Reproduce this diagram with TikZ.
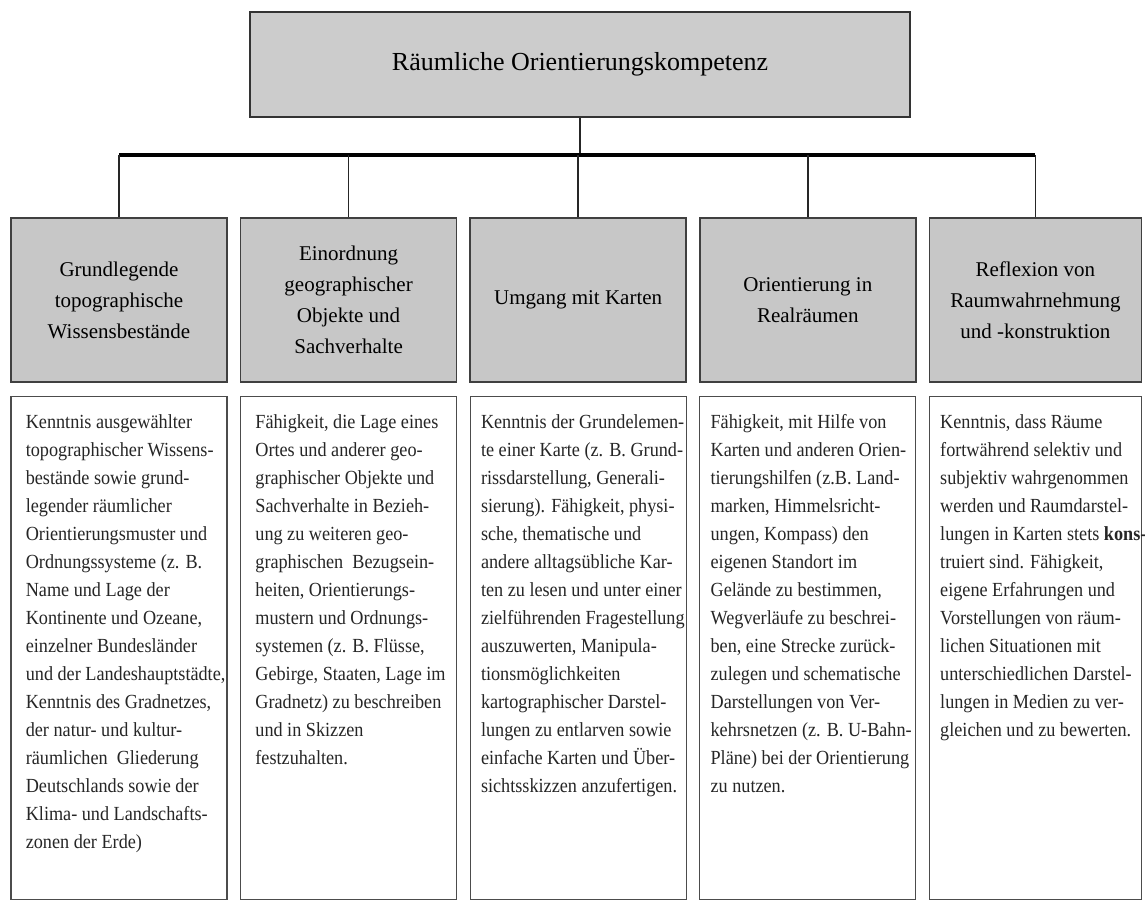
\documentclass[tikz,border=0pt]{standalone}
\usepackage{fontspec}
\setmainfont{Liberation Serif}
\newfontfamily\bodyfont[FakeStretch=0.91]{Liberation Serif}
\usepackage{tikz}
\usetikzlibrary{positioning}
\tikzstyle{topbox} = [rectangle, minimum width=330pt, minimum height=52.5pt, text centered, draw=black!80, line width=0.9pt, fill=black!20, font=\fontsize{13}{15}\selectfont]
\tikzstyle{header} = [rectangle, minimum width=108pt, minimum height=82pt, align=center, draw=black!75, line width=0.8pt, fill=black!22, font=\fontsize{10.5}{15.5}\selectfont]
\tikzstyle{textbox} = [rectangle, minimum width=108pt, minimum height=251.5pt, draw=black!70, line width=0.6pt, fill=white]
\tikzstyle{bodytext} = [align=left, inner sep=0pt, anchor=north west, font=\bodyfont\fontsize{10}{14}\selectfont, text=black!85]
\tikzstyle{trunk} = [draw=black!85, line width=0.8pt]
\tikzstyle{bar} = [draw=black, line width=1.8pt]
\begin{document}
\begin{tikzpicture}[x=0.5pt, y=-0.5pt]
      \useasboundingbox (0,0) rectangle (1145,900);

      \node (top)  [topbox] at (580,64.5) {Räumliche Orientierungskompetenz};

      \node (hdA)  [header] at (119,300)        {Grundlegende\\topographische\\Wissensbestände};
      \node (hdB)  [header, right=6pt of hdA]   {Einordnung\\geographischer\\Objekte und\\Sachverhalte};
      \node (hdC)  [header, right=6pt of hdB]   {Umgang mit Karten};
      \node (hdD)  [header, right=6pt of hdC]   {Orientierung in\\Realräumen};
      \node (hdE)  [header, right=6pt of hdD, minimum width=106pt] {Reflexion von\\Raumwahrnehmung\\und -konstruktion};

      \node (boxA) [textbox, below=6.5pt of hdA] {};
      \node (boxB) [textbox, below=6.5pt of hdB] {};
      \node (boxC) [textbox, below=6.5pt of hdC] {};
      \node (boxD) [textbox, below=6.5pt of hdD] {};
      \node (boxE) [textbox, below=6.5pt of hdE, minimum width=106pt] {};

      \node (txtA) [bodytext] at ([xshift=7.5pt, yshift=-9pt]boxA.north west)
        {Kenntnis ausgewählter\\topographischer Wissens-\\bestände sowie grund-\\legender räumlicher\\Orientierungsmuster und\\Ordnungssysteme (z. B.\\Name und Lage der\\Kontinente und Ozeane,\\einzelner Bundesländer\\und der Landeshauptstädte,\\Kenntnis des Gradnetzes,\\der natur- und kultur-\\räumlichen\ \ Gliederung\\Deutschlands sowie der\\Klima- und Landschafts-\\zonen der Erde)};
      \node (txtB) [bodytext] at ([xshift=7.5pt, yshift=-9pt]boxB.north west)
        {Fähigkeit, die Lage eines\\Ortes und anderer geo-\\graphischer Objekte und\\Sachverhalte in Bezieh-\\ung zu weiteren geo-\\graphischen\ \ Bezugsein-\\heiten, Orientierungs-\\mustern und Ordnungs-\\systemen (z. B. Flüsse,\\Gebirge, Staaten, Lage im\\Gradnetz) zu beschreiben\\und in Skizzen\\festzuhalten.};
      \node (txtC) [bodytext] at ([xshift=5.5pt, yshift=-9pt]boxC.north west)
        {Kenntnis der Grundelemen-\\te einer Karte (z. B. Grund-\\rissdarstellung, Generali-\\sierung). Fähigkeit, physi-\\sche, thematische und\\andere alltagsübliche Kar-\\ten zu lesen und unter einer\\zielführenden Fragestellung\\auszuwerten, Manipula-\\tionsmöglichkeiten\\kartographischer Darstel-\\lungen zu entlarven sowie\\einfache Karten und Über-\\sichtsskizzen anzufertigen.};
      \node (txtD) [bodytext] at ([xshift=5.5pt, yshift=-9pt]boxD.north west)
        {Fähigkeit, mit Hilfe von\\Karten und anderen Orien-\\tierungshilfen (z.B. Land-\\marken, Himmelsricht-\\ungen, Kompass) den\\eigenen Standort im\\Gelände zu bestimmen,\\Wegverläufe zu beschrei-\\ben, eine Strecke zurück-\\zulegen und schematische\\Darstellungen von Ver-\\kehrsnetzen (z. B. U-Bahn-\\Pläne) bei der Orientierung\\zu nutzen.};
      \node (txtE) [bodytext] at ([xshift=5.5pt, yshift=-9pt]boxE.north west)
        {Kenntnis, dass Räume\\fortwährend selektiv und\\subjektiv wahrgenommen\\werden und Raumdarstel-\\lungen in Karten stets \textbf{kons-}\\truiert sind. Fähigkeit,\\eigene Erfahrungen und\\Vorstellungen von räum-\\lichen Situationen mit\\unterschiedlichen Darstel-\\lungen in Medien zu ver-\\gleichen und zu bewerten.};

      \coordinate (joint) at (580,155);
      \draw [trunk] (top.south) -- (joint);
      \draw [bar]   (hdA.north |- joint) -- (hdE.north |- joint);
      \foreach \h in {hdA,hdB,hdC,hdD,hdE}
        \draw [trunk] (\h.north |- joint) -- (\h.north);
    \end{tikzpicture}
\end{document}
